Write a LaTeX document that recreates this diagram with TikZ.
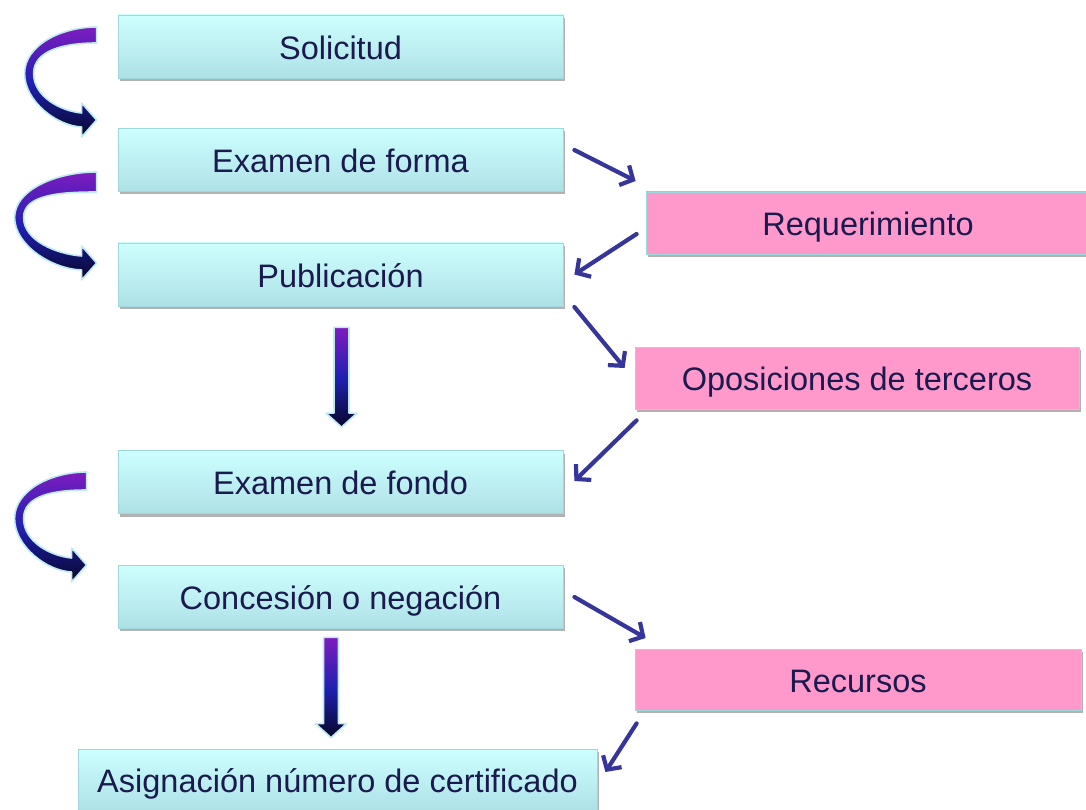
\documentclass[tikz,border=0pt]{standalone}
\usepackage{fontspec}
\setmainfont{Liberation Sans}
\usetikzlibrary{arrows.meta,calc,shadows}
\definecolor{txt}{HTML}{1A1A4E}
\definecolor{cyantop}{HTML}{CDFFFF}
\definecolor{cyanbot}{HTML}{AEE1E6}
\definecolor{boxline}{HTML}{9FD8DC}
\definecolor{pinkfill}{HTML}{FF99CC}
\definecolor{conn}{HTML}{35359A}
\definecolor{glow}{HTML}{BDEBEE}
\definecolor{gtop}{HTML}{7E1CBE}
\definecolor{gmid}{HTML}{2020B4}
\definecolor{gbot}{HTML}{07072A}
% #1 from anchor, #2 to anchor, #3 x offset, #4 top gap, #5 tip gap (picture units, y down)
\newcommand{\vshadearrow}[5]{%
  \path[gradfill] let \p1=($(#1)+(#3,#4)$), \p2=($(#2)+(#3,-#5)$) in
   (\x1-7.5pt,\y1) -- (\x1+7.5pt,\y1) -- (\x1+7.5pt,\y2+14pt)
   -- (\x1+15.5pt,\y2+14pt) -- (\x1,\y2) -- (\x1-15.5pt,\y2+14pt)
   -- (\x1-7.5pt,\y2+14pt) -- cycle;}
\begin{document}
\begin{tikzpicture}[x=1pt,y=-1pt,
  box/.style={rectangle, draw=boxline, line width=0.8pt, top color=cyantop, bottom color=cyanbot,
    minimum width=445pt, minimum height=63pt, inner sep=0pt, text=txt,
    font=\fontsize{32.5}{39}\selectfont, text height=30pt, text depth=4.6pt,
    drop shadow={shadow xshift=2pt,shadow yshift=-3pt,opacity=0.3,fill=black}},
  pinkbox/.style={box, top color=pinkfill, bottom color=pinkfill, draw=boxline},
  link/.style={draw=conn, line width=4.2pt, line cap=round,
    -{Straight Barb[length=10pt,width=22pt,line width=4.2pt]}},
  gradfill/.style={draw=glow, line width=1.6pt, line join=round,
    top color=gtop, bottom color=gbot, middle color=gmid},
  pics/curvarr/.style n args={3}{code={
    \path[gradfill]
      (0,0) .. controls (-0.5*#1,0) and (-#1,0.2*#2) .. (-#1,0.5*#2)
      .. controls (-#1,0.8*#2) and (-0.55*#1,#2+6) .. (-15,#2+7)
      -- (-15,#2+17) -- (0,#2) -- (-15,#2-17) -- (-15,#2-7)
      .. controls (-0.5*#1,#2-9) and (-#1+9,0.75*#2) .. (-#1+9,0.5*#2)
      .. controls (-#1+9,0.25*#2) and (-0.45*#1,#3) .. (0,#3) -- cycle;
  }}
]
\useasboundingbox[fill=white] (0,0) rectangle (1086,810);

% main column
\node[box] (sol)   at (340.5,46.5)  {Solicitud};
\node[box] (forma) at (340.5,160)   {Examen de forma};
\node[box] (pub)   at (340.5,274.5) {Publicación};
\node[box] (fondo) at (340.5,482)   {Examen de fondo};
\node[box] (conc)  at (340.5,596.5) {Concesión o negación};
\node[box, minimum width=519pt, minimum height=62pt] (asig) at (337.5,780) {Asignación número de certificado};

% side boxes
\node[pinkbox, minimum width=444pt, minimum height=62pt] (req)  at (868,223)   {Requerimiento};
\node[pinkbox, minimum width=444pt, minimum height=62pt] (opos) at (857,378)   {Oposiciones de terceros};
\node[pinkbox, minimum width=446pt, minimum height=61pt] (rec)  at (858,679.5) {Recursos};

% side connectors
\draw[link] ($(forma.east)+(11,-10)$) -- ($(req.west)+(-10,-42)$);
\draw[link] ($(req.west)+(-9,11)$) -- ($(pub.east)+(11,0)$);
\draw[link] ($(pub.east)+(11,32.5)$) -- ($(opos.west)+(-10,-10)$);
\draw[link] ($(opos.south west)+(2,11)$) -- ($(fondo.east)+(11,-1)$);
\draw[link] ($(conc.east)+(11,0.5)$) -- ($(rec.west)+(11,-41.5)$);
\draw[link] ($(rec.south west)+(2,13)$) -- ($(asig.east)+(8,-8)$);

% curved arrows
\pic at ($(sol.west)+(-21,-19.5)$) {curvarr={72}{93}{16}};
\pic at ($(forma.west)+(-21,12)$) {curvarr={82}{91}{20}};
\pic at ($(fondo.west)+(-31,-10)$) {curvarr={72}{93}{18}};

% straight gradient arrows
\vshadearrow{pub.south}{fondo.north}{1}{21}{23}
\vshadearrow{conc.south}{asig.north}{-9.5}{9}{11}
\end{tikzpicture}
\end{document}
